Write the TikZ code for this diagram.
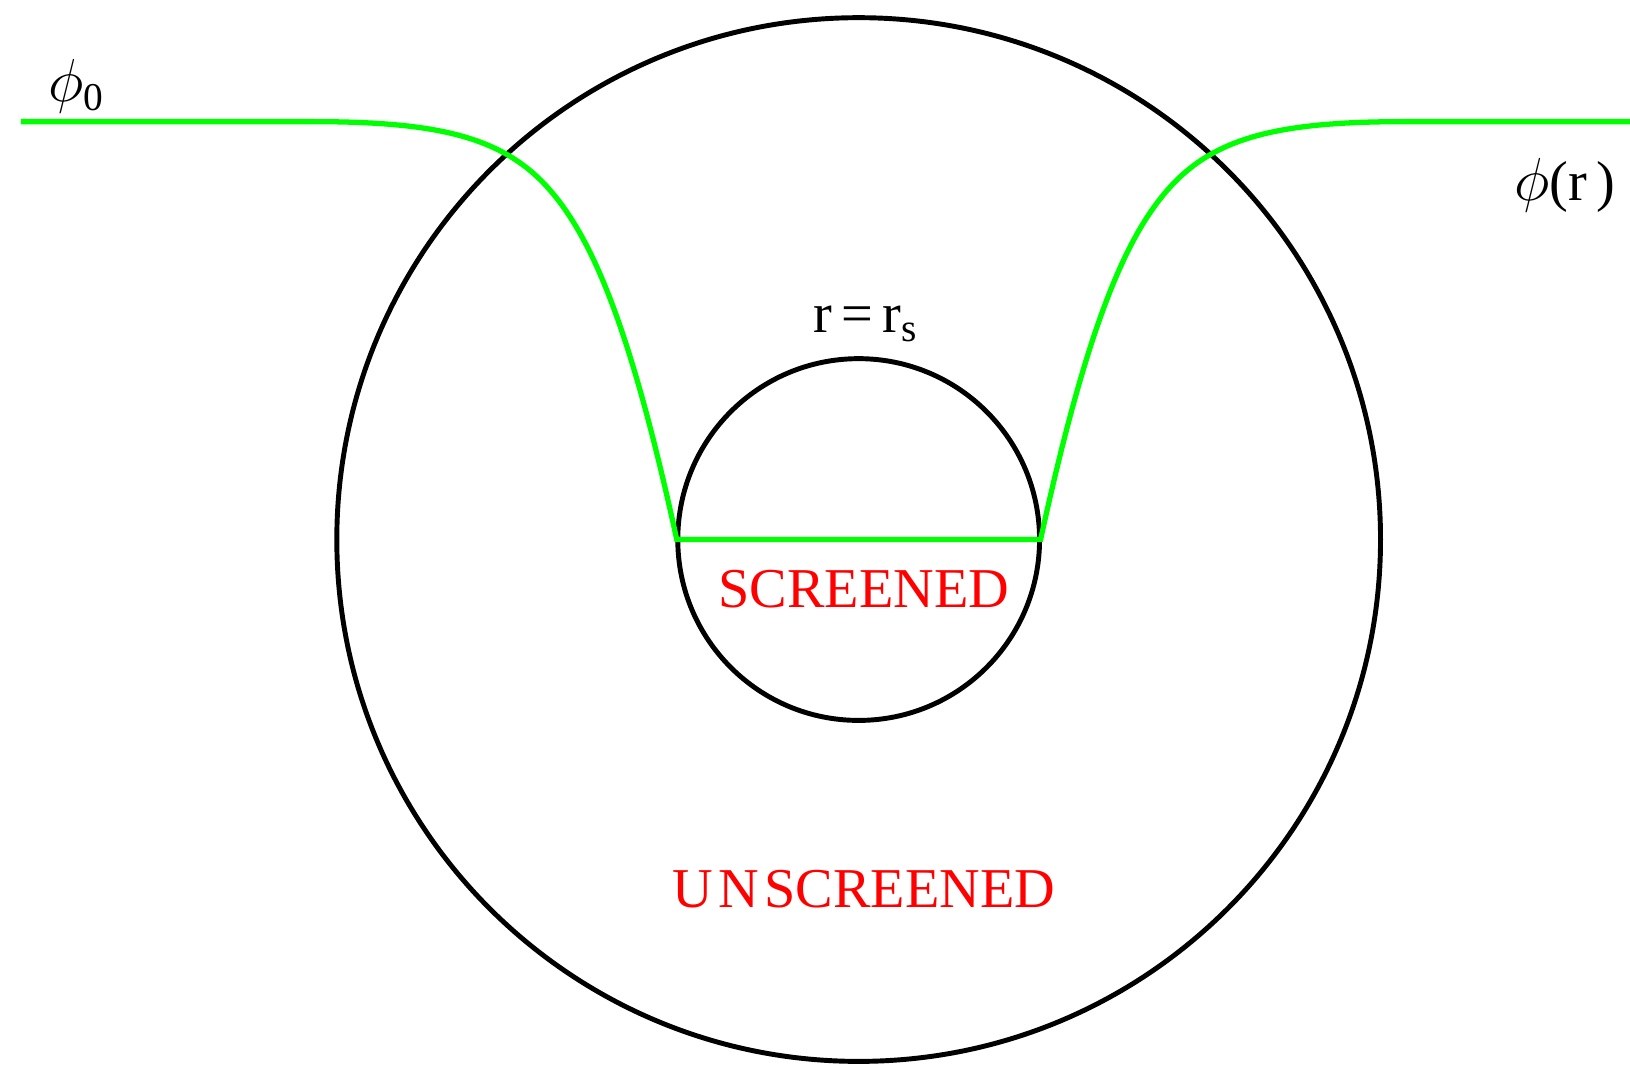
\documentclass[tikz,border=0pt]{standalone}
\usepackage{amsmath}
\usepackage{fontspec}
\setmainfont{Liberation Serif}
\usetikzlibrary{positioning,calc}
\definecolor{fieldGreen}{RGB}{0,255,0}
\definecolor{labelRed}{RGB}{255,0,0}

\begin{document}
\begin{tikzpicture}[x=0.010395cm,y=-0.010395cm,
        ring/.style={draw=black,line width=1.4pt},
        field/.style={draw=fieldGreen,line width=1.5pt,line join=miter},
        lbl/.style={font=\fontsize{16}{19}\selectfont,inner sep=0pt},
        zone/.style={lbl,text=labelRed}
      ]
        \useasboundingbox (0,0) rectangle (1568,1024);
        % shells
        \coordinate (c) at (826,519);
        \draw[ring] (c) circle[radius=502];
        \draw[ring] (c) circle[radius=174];

        % field profile
        \coordinate (lstart) at (20,117);
        \coordinate (lflat) at (300,117);
        \coordinate (lmid) at (529,182.8);
        \coordinate (lbot) at (651,519);
        \coordinate (rbot) at (1001,519);
        \coordinate (rmid) at (1123,182.8);
        \coordinate (rflat) at (1352,117);
        \coordinate (rend) at (1568,117);
        \draw[field] (lstart) -- (lflat)
          .. controls (420,117) and (484,131) .. (lmid)
          .. controls (569,228.8) and (606,312) .. (lbot)
          -- (rbot)
          .. controls (1046,312) and (1083,228.8) .. (rmid)
          .. controls (1168,131) and (1232,117) .. (rflat) -- (rend);

        % labels
        \node[lbl] (phizero) at (74,83) {$\phi$$_{\text{0}}$};
        \node[lbl] (phir) at (1505,178) {$\phi$(r\,)};
        \node[lbl] (rs) at (833,312) {r\,=\,r$_{\text{s}}$};
        \node[zone] (scr) at (831,567) {SCREENED};
        \node[zone] (unscr) at (831,855) {U\kern1.5pt N\kern1.5pt SCREENED};
      \end{tikzpicture}
\end{document}
